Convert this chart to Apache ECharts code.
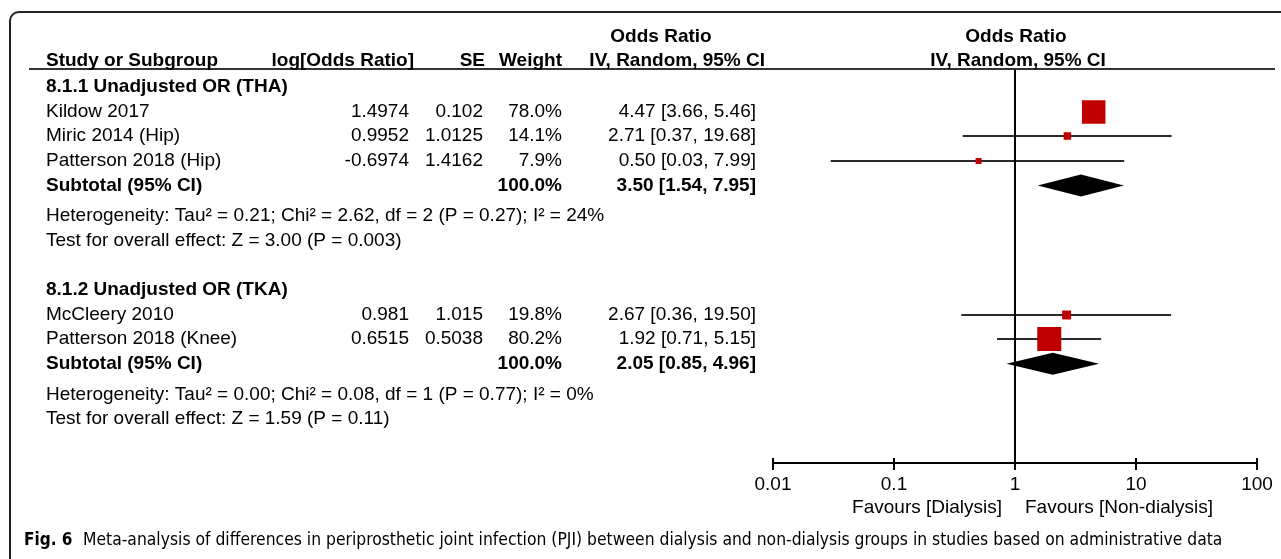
<!DOCTYPE html>
<html>
<head>
<meta charset="utf-8">
<script src="https://cdn.jsdelivr.net/npm/echarts@6/dist/echarts.min.js"></script>
<style>
  html, body { margin: 0; padding: 0; background: #fff; }
  #main { width: 1281px; height: 559px; }
</style>
</head>
<body>
<div id="main"></div>
<script>
// 研究数据
const studyNames = ['Kildow 2017', 'Miric 2014 (Hip)', 'Patterson 2018 (Hip)', 'McCleery 2010', 'Patterson 2018 (Knee)'];
const studyGroup = [0, 0, 0, 1, 1];
const logOddsRatio = ['1.4974', '0.9952', '-0.6974', '0.981', '0.6515'];
const standardError = ['0.102', '1.0125', '1.4162', '1.015', '0.5038'];
const weights = [78.0, 14.1, 7.9, 19.8, 80.2];
const oddsRatio = [4.47, 2.71, 0.50, 2.67, 1.92];
const ciLow = [3.66, 0.37, 0.03, 0.36, 0.71];
const ciHigh = [5.46, 19.68, 7.99, 19.50, 5.15];

// 亚组汇总
const groupNames = ['8.1.1 Unadjusted OR (THA)', '8.1.2 Unadjusted OR (TKA)'];
const subtotalOR = [3.50, 2.05];
const subtotalLow = [1.54, 0.85];
const subtotalHigh = [7.95, 4.96];
const heterogeneity = [
  'Heterogeneity: Tau² = 0.21; Chi² = 2.62, df = 2 (P = 0.27); I² = 24%',
  'Heterogeneity: Tau² = 0.00; Chi² = 0.08, df = 1 (P = 0.77); I² = 0%'
];
const overallEffect = [
  'Test for overall effect: Z = 3.00 (P = 0.003)',
  'Test for overall effect: Z = 1.59 (P = 0.11)'
];

// 坐标轴
const axisTicks = [0.01, 0.1, 1, 10, 100];
const tickLabels = ['0.01', '0.1', '1', '10', '100'];
const favours = ['Favours [Dialysis]', 'Favours [Non-dialysis]'];
const captionBold = 'Fig. 6';
const captionText = 'Meta-analysis of differences in periprosthetic joint infection (PJI) between dialysis and non-dialysis groups in studies based on administrative data';

const FONT = '"Liberation Sans", Arial, sans-serif';
const FS = 19;

// 行布局 (行号)
const rows = [];
let r = 0;
groupNames.forEach((g, gi) => {
  rows.push({ kind: 'group', gi: gi, r: r }); r += 1;
  studyNames.forEach((s, i) => {
    if (studyGroup[i] === gi) { rows.push({ kind: 'study', i: i, r: r }); r += 1; }
  });
  rows.push({ kind: 'subtotal', gi: gi, r: r }); r += 1.25;
  rows.push({ kind: 'het', gi: gi, r: r }); r += 1;
  rows.push({ kind: 'test', gi: gi, r: r }); r += 2;
});

const studyData = rows.filter(x => x.kind === 'study')
  .map(x => [oddsRatio[x.i], ciLow[x.i], ciHigh[x.i], x.r, weights[x.i]]);
const subtotalData = rows.filter(x => x.kind === 'subtotal')
  .map(x => [subtotalOR[x.gi], subtotalLow[x.gi], subtotalHigh[x.gi], x.r]);

const chart = echarts.init(document.getElementById('main'), null, { renderer: 'canvas' });

const gridTop = 70, gridBottom = 96;
const gridH = 559 - gridTop - gridBottom;

const axisBase = {
  type: 'log',
  logBase: 10,
  min: 0.01,
  max: 100,
  gridIndex: 0,
  splitLine: { show: false }
};

const option = {
  animation: false,
  backgroundColor: '#fff',
  grid: { left: 773, right: 24, top: gridTop, bottom: gridBottom },
  xAxis: [
    Object.assign({}, axisBase, {
      position: 'bottom',
      axisLine: { onZero: false, lineStyle: { color: '#000', width: 2 } },
      axisTick: { length: 7, lineStyle: { color: '#000', width: 2 } },
      axisLabel: {
        margin: 12,
        color: '#000',
        fontSize: FS,
        fontFamily: FONT,
        formatter: function (v) {
          const k = axisTicks.findIndex(t => Math.abs(Math.log10(t) - Math.log10(v)) < 1e-6);
          return k >= 0 ? tickLabels[k] : '';
        }
      }
    }),
    // 刻度向上的部分
    Object.assign({}, axisBase, {
      position: 'top',
      offset: -gridH,
      axisLine: { show: false, onZero: false },
      axisTick: { length: 5, lineStyle: { color: '#000', width: 2 } },
      axisLabel: { show: false }
    })
  ],
  yAxis: {
    type: 'value',
    inverse: true,
    min: -0.69,
    max: 15.28,
    show: false
  },
  series: [
    {
      type: 'scatter',
      data: [],
      markLine: {
        silent: true,
        symbol: 'none',
        label: { show: false },
        lineStyle: { color: '#000', width: 2, type: 'solid' },
        data: [{ xAxis: 1 }]
      }
    },
    {
      type: 'custom',
      data: studyData,
      encode: { x: [0, 1, 2], y: 3 },
      renderItem: function (params, api) {
        const c = api.coord([api.value(0), api.value(3)]);
        const lo = api.coord([api.value(1), api.value(3)]);
        const hi = api.coord([api.value(2), api.value(3)]);
        const y = Math.round(c[1]);
        const size = 4 + api.value(4) * 0.25;
        return {
          type: 'group',
          children: [
            { type: 'line', shape: { x1: lo[0], y1: y, x2: hi[0], y2: y }, style: { stroke: '#2a2a2a', lineWidth: 2 } },
            { type: 'rect', shape: { x: c[0] - size / 2, y: y - size / 2, width: size, height: size }, style: { fill: '#c00000' } }
          ]
        };
      }
    },
    {
      type: 'custom',
      data: subtotalData,
      encode: { x: [0, 1, 2], y: 3 },
      renderItem: function (params, api) {
        const c = api.coord([api.value(0), api.value(3)]);
        const lo = api.coord([api.value(1), api.value(3)]);
        const hi = api.coord([api.value(2), api.value(3)]);
        return {
          type: 'polygon',
          shape: { points: [[lo[0], c[1]], [c[0], c[1] - 11], [hi[0], c[1]], [c[0], c[1] + 11]] },
          style: { fill: '#000' }
        };
      }
    }
  ]
};

chart.setOption(option);

// 表格文字
function txt(text, x, y, align, bold) {
  return {
    type: 'text',
    x: x,
    y: y,
    silent: true,
    style: {
      text: text,
      fill: '#000',
      font: (bold ? 'bold ' : '') + FS + 'px ' + FONT,
      textAlign: align,
      textVerticalAlign: 'middle'
    }
  };
}

const px1 = chart.convertToPixel({ gridIndex: 0 }, [1, 0])[0];
const rowY = rr => chart.convertToPixel({ gridIndex: 0 }, [1, rr])[1];

const colLabel = 46, colLog = 409, colSE = 483, colW = 562, colCI = 756;
const g = [];

// 边框和表头线
g.push({ type: 'rect', shape: { x: 10, y: 12, width: 1320, height: 600, r: 9 }, style: { fill: 'none', stroke: '#222', lineWidth: 2 }, silent: true });
g.push({ type: 'line', shape: { x1: 29, y1: 69, x2: 1275, y2: 69 }, style: { stroke: '#333', lineWidth: 2 }, silent: true });

g.push(txt('Odds Ratio', 661, 37, 'center', true));
g.push(txt('Odds Ratio', px1 + 1, 37, 'center', true));
g.push(txt('Study or Subgroup', colLabel, 61, 'left', true));
g.push(txt('log[Odds Ratio]', 414, 61, 'right', true));
g.push(txt('SE', 485, 61, 'right', true));
g.push(txt('Weight', 562, 61, 'right', true));
g.push(txt('IV, Random, 95% CI', 765, 61, 'right', true));
g.push(txt('IV, Random, 95% CI', px1 + 3, 61, 'center', true));

const ci = (o, l, h) => o.toFixed(2) + ' [' + l.toFixed(2) + ', ' + h.toFixed(2) + ']';

rows.forEach(row => {
  const y = rowY(row.r);
  if (row.kind === 'group') {
    g.push(txt(groupNames[row.gi], colLabel, y, 'left', true));
  } else if (row.kind === 'study') {
    const i = row.i;
    g.push(txt(studyNames[i], colLabel, y, 'left', false));
    g.push(txt(logOddsRatio[i], colLog, y, 'right', false));
    g.push(txt(standardError[i], colSE, y, 'right', false));
    g.push(txt(weights[i].toFixed(1) + '%', colW, y, 'right', false));
    g.push(txt(ci(oddsRatio[i], ciLow[i], ciHigh[i]), colCI, y, 'right', false));
  } else if (row.kind === 'subtotal') {
    const k = row.gi;
    g.push(txt('Subtotal (95% CI)', colLabel, y, 'left', true));
    g.push(txt('100.0%', colW, y, 'right', true));
    g.push(txt(ci(subtotalOR[k], subtotalLow[k], subtotalHigh[k]), colCI, y, 'right', true));
  } else if (row.kind === 'het') {
    g.push(txt(heterogeneity[row.gi], colLabel, y, 'left', false));
  } else if (row.kind === 'test') {
    g.push(txt(overallEffect[row.gi], colLabel, y, 'left', false));
  }
});

g.push(txt(favours[0], px1 - 13, 508, 'right', false));
g.push(txt(favours[1], px1 + 10, 508, 'left', false));

// 图注
const capFont = '"Liberation Sans Narrow", "DejaVu Sans Condensed", sans-serif';
g.push({ type: 'text', x: 24, y: 541, silent: true,
  style: { text: captionBold, fill: '#000', font: 'bold 17px ' + capFont, textAlign: 'left', textVerticalAlign: 'middle' } });
g.push({ type: 'text', x: 83, y: 541, scaleX: 1.02, silent: true,
  style: { text: captionText, fill: '#000', font: '17px ' + capFont, textAlign: 'left', textVerticalAlign: 'middle' } });

chart.setOption({ graphic: g });
</script>
</body>
</html>
